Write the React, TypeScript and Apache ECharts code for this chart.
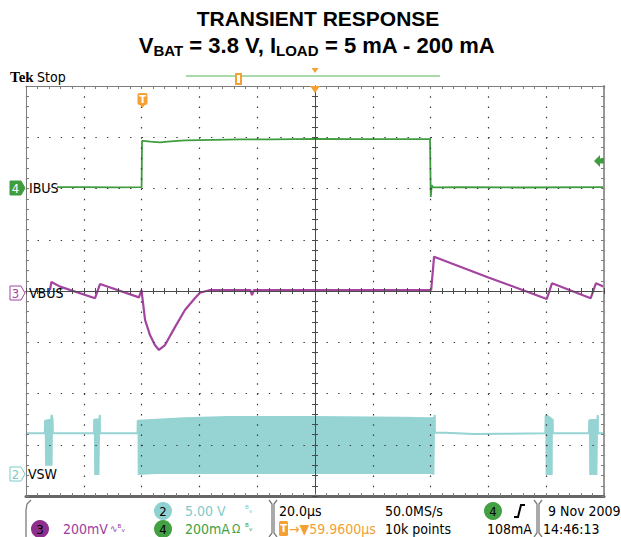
import React, { useEffect, useRef } from 'react';
import * as echarts from 'echarts';

// ---------- data (time in µs relative to trigger, 20 µs/div) ----------
const timeMin = -40;
const timeMax = 160;
const timeStep = 20;

// CH4 IBUS (mA, 200 mA/div)
const ibusTime = [-29.3, -20, -10, 0, 0.15, 0.6, 3, 6.4, 10, 15, 25, 34, 45, 60, 75, 89, 99.8, 100.05, 100.4, 100.9, 110, 130, 160];
const ibusMA = [5, 5, 4, 5, 186, 186, 183, 180, 184, 188, 190, 192, 192, 194, 193, 193, 193, -33, 13, 4, 5, 4, 5];

// CH3 VBUS (mV deviation, 200 mV/div, AC)
const vbusTime = [-31.7, -31.2, -28.2, -16.1, -14.4, -0.9, -0.05, 1.2, 2.9, 4.6, 6.0, 8.1, 11.6, 15.0, 18.5, 20.2, 23.7, 37.6, 38.2, 38.9, 60, 80, 99.9, 100.2, 101.2, 120, 140.2, 142.0, 155.4, 157.2, 160];
const vbusMV = [4, 35, 17, -28, 27, -25, 4, -113, -172, -211, -230, -211, -140, -74, -27, -7, 4, 4, -16, 4, 4, 4, 4, 4, 134, 53, -31, 30, -28, 30, 17];

// CH2 VSW (V, 5 V/div) - envelope of the switching node
const vswTime = [-40, -33.5, -33.4, -31.3, -31.1, -30.8, -30.7, -16.5, -16.4, -14.6, -14.45, -14.4, -1.4, -1.35, 5, 15, 30, 60, 90, 100, 101.3, 101.45, 101.5, 105, 115, 125, 139.7, 139.8, 140.0, 142.25, 142.3, 154.8, 154.9, 157.7, 157.85, 157.9, 160];
const vswLowV = [3.97, 3.97, 0.8, 0.8, 0.8, 0.8, 3.97, 3.97, -0.1, -0.1, -0.1, 3.97, 3.97, -0.1, 0, 0, 0, 0, 0, 0, -0.1, -0.1, 4.03, 4.03, 3.9, 3.93, 3.97, -0.1, -0.1, -0.1, 3.97, 3.97, -0.1, -0.1, -0.1, 3.97, 3.97];
const vswHighV = [3.97, 3.97, 5.2, 5.3, 5.76, 5.3, 3.97, 3.97, 5.3, 5.35, 5.76, 3.97, 3.97, 5.2, 5.3, 5.43, 5.56, 5.56, 5.5, 5.43, 5.5, 5.76, 4.03, 4.03, 3.9, 3.93, 3.97, 5.6, 5.76, 5.3, 3.97, 3.97, 5.25, 5.3, 5.76, 3.97, 3.97];

// channel scales (units per division, ground offset in divisions)
const ibusPerDiv = 200;
const ibusZeroDiv = 2;
const vbusPerDiv = 200;
const vbusZeroDiv = 0;
const vswPerDiv = 5;
const vswZeroDiv = -3.571;

// status bar texts
const statusTexts = {
  ch2Scale: '5.00 V',
  ch3Scale: '200mV',
  ch4Scale: '200mA',
  timebase: '20.0µs',
  sampleRate: '50.0MS/s',
  trigPos: '→▼59.9600µs',
  points: '10k points',
  trigLevel: '108mA',
  date: '9 Nov 2009',
  time: '14:46:13',
};

// ---------- styles ----------
const C_IBUS = '#3f9d3f';
const C_VBUS = '#a3449f';
const C_VSW = '#96d3d3';
const C_ORANGE = '#f4a033';
const FRAME = '#7c7c7c';
const DOT = '#3a3a3a';
const CENTER = '#4a4a4a';
const SCOPE_FONT = '"DejaVu Sans Condensed", "DejaVu Sans", sans-serif';
const TITLE_FONT = '"Liberation Sans", Arial, sans-serif';

function txt(text: string, x: number, y: number, fill: string, size = 14, align = 'left', extra: any = {}) {
  return {
    type: 'text', x, y, z: 100,
    style: {
      text, fill, font: `${extra.weight || 'normal'} ${size}px ${extra.family || SCOPE_FONT}`,
      textAlign: align, align, textVerticalAlign: 'middle', verticalAlign: 'middle',
    },
  };
}
function badge(label: string, cx: number, cy: number, fill: string) {
  return [
    { type: 'circle', z: 100, shape: { cx, cy, r: 9 }, style: { fill } },
    txt(label, cx, cy + 0.5, '#000', 13, 'center'),
  ];
}
function chMarker(label: string, y: number, color: string, filled: boolean) {
  return [
    {
      type: 'polygon', z: 100,
      shape: { points: [[10, y - 7], [21, y - 7], [25, y], [21, y + 7], [10, y + 7]] },
      style: { fill: filled ? color : '#fff', stroke: color, lineWidth: 1 },
    },
    txt(label, 15.5, y + 0.5, filled ? '#fff' : color, 13, 'center'),
  ];
}
function bracket(x: number) {
  return [
    { type: 'polyline', z: 100, shape: { points: [[x - 4, 500], [x - 1, 504], [x - 1, 533], [x - 4, 537]] }, style: { stroke: FRAME, lineWidth: 1.3, fill: 'none' } },
    { type: 'polyline', z: 100, shape: { points: [[x + 4, 500], [x + 1, 504], [x + 1, 533], [x + 4, 537]] }, style: { stroke: FRAME, lineWidth: 1.3, fill: 'none' } },
  ];
}

function chRange(perDiv: number, zeroDiv: number) {
  return { min: (-4 - zeroDiv) * perDiv, max: (4 - zeroDiv) * perDiv };
}

function buildOption(): any {
  const hiddenY = (r: { min: number; max: number }) => ({
    type: 'value', min: r.min, max: r.max, show: false, axisLine: { onZero: false }, splitLine: { show: false },
  });
  const timeAxis = (position: string, withSplit: boolean, lineWidth: number, color: string) => ({
    type: 'value', min: timeMin, max: timeMax, interval: timeStep, position, z: 5,
    axisLine: { show: true, onZero: false, lineStyle: { color, width: lineWidth } },
    axisTick: { show: true, inside: true, length: 3, lineStyle: { color: FRAME } },
    minorTick: { show: true, splitNumber: 5, length: 3, lineStyle: { color: FRAME } },
    axisLabel: { show: false },
    splitLine: { show: withSplit, lineStyle: { color: DOT, width: 1.2, type: [1.4, 8.85] } },
    minorSplitLine: { show: false },
  });
  const divX = (inside: boolean) => ({
    type: 'value', min: -5, max: 5, interval: 1, position: 'bottom', z: 5,
    axisLine: { show: true, onZero: true, onZeroAxisIndex: 0, lineStyle: { color: CENTER, width: 1 } },
    axisTick: { show: true, inside, length: 3, lineStyle: { color: CENTER } },
    minorTick: { show: true, splitNumber: 5, length: 3, lineStyle: { color: CENTER } },
    axisLabel: { show: false }, splitLine: { show: false },
  });
  const divYBorder = (position: string, withSplit: boolean, lineWidth: number, color: string) => ({
    type: 'value', min: -4, max: 4, interval: 1, position, z: 5,
    axisLine: { show: true, onZero: false, lineStyle: { color, width: lineWidth } },
    axisTick: { show: true, inside: true, length: 3, lineStyle: { color: FRAME } },
    minorTick: { show: true, splitNumber: 5, length: 3, lineStyle: { color: FRAME } },
    axisLabel: { show: false },
    splitLine: { show: withSplit, lineStyle: { color: DOT, width: 1.2, type: [1.4, 10.16] } },
    minorSplitLine: { show: false },
  });
  const divYCenter = (inside: boolean) => ({
    type: 'value', min: -4, max: 4, interval: 1, position: 'left', z: 5,
    axisLine: { show: true, onZero: true, onZeroAxisIndex: 2, lineStyle: { color: CENTER, width: 1 } },
    axisTick: { show: true, inside, length: 3, lineStyle: { color: CENTER } },
    minorTick: { show: true, splitNumber: 5, length: 3, lineStyle: { color: CENTER } },
    axisLabel: { show: false }, splitLine: { show: false },
  });

  const vswHigh = vswTime.map((t, i) => [t, vswHighV[i]]);
  const vswLow = vswTime.map((t, i) => [t, vswLowV[i]]);

  const graphic: any[] = [
    // title
    {
      type: 'text', x: 318, y: 18, z: 100,
      style: {
        text: 'TRANSIENT RESPONSE', fill: '#000', font: `bold 21px ${TITLE_FONT}`,
        textAlign: 'center', align: 'center', textVerticalAlign: 'middle', verticalAlign: 'middle',
      },
    },
    {
      type: 'text', x: 317, y: 45, z: 100,
      style: {
        text: '{m|V}{s|BAT}{m| = 3.8 V, I}{s|LOAD}{m| = 5 mA - 200 mA}',
        fill: '#000',
        textAlign: 'center', align: 'center', textVerticalAlign: 'middle', verticalAlign: 'middle',
        rich: {
          m: { fontSize: 22, fontWeight: 'bold', fontFamily: TITLE_FONT, lineHeight: 26, fill: '#000' },
          s: { fontSize: 15, fontWeight: 'bold', fontFamily: TITLE_FONT, lineHeight: 14, verticalAlign: 'bottom', fill: '#000' },
        },
      },
    },
    // Tek Stop
    txt('Tek', 10, 77, '#000', 15, 'left', { weight: 'bold', family: '"Liberation Serif", serif' }),
    txt('Stop', 37, 77, '#000', 14),
    // record view bar
    { type: 'line', z: 100, shape: { x1: 186, y1: 76, x2: 440, y2: 76 }, style: { stroke: '#55b455', lineWidth: 1 } },
    { type: 'rect', z: 101, shape: { x: 235, y: 73, width: 7, height: 12 }, style: { fill: C_ORANGE } },
    { type: 'rect', z: 102, shape: { x: 237, y: 75, width: 3, height: 8 }, style: { fill: '#fff' } },
    { type: 'polygon', z: 100, shape: { points: [[311.5, 68], [318.5, 68], [315, 73]] }, style: { fill: C_ORANGE } },
    // trigger position on top border
    { type: 'polygon', z: 100, shape: { points: [[310, 86], [320, 86], [315, 93]] }, style: { fill: C_ORANGE } },
    // trigger T marker
    { type: 'rect', z: 100, shape: { x: 137.5, y: 93, width: 10, height: 12, r: 2 }, style: { fill: C_ORANGE } },
    { type: 'polygon', z: 100, shape: { points: [[139.5, 104], [145.5, 104], [142.5, 108]] }, style: { fill: C_ORANGE } },
    txt('T', 142.5, 99.5, '#fff', 11, 'center', { weight: 'bold' }),
    // trigger level arrow (right)
    { type: 'polygon', z: 100, shape: { points: [[594, 161], [600, 155], [600, 158.5], [604, 158.5], [604, 163.5], [600, 163.5], [600, 167]] }, style: { fill: C_IBUS } },
    // channel markers and labels
    ...chMarker('4', 188, C_IBUS, true),
    txt('IBUS', 29, 188, '#000', 14),
    ...chMarker('3', 293, C_VBUS, false),
    txt('VBUS', 29, 293, '#000', 14),
    ...chMarker('2', 474, '#7cc8c8', false),
    txt('VSW', 28, 474, '#000', 14),
    // status bar
    { type: 'polyline', z: 100, shape: { points: [[31, 500], [27, 504], [26, 510], [26, 537]] }, style: { stroke: FRAME, lineWidth: 1.3, fill: 'none' } },
    ...bracket(273),
    ...bracket(538),
    ...badge('2', 163, 511, '#8fd1d1'),
    txt(statusTexts.ch2Scale, 185, 511, '#7fcaca', 14),
    txt('ᴮᵥ', 245, 509, '#7fcaca', 10),
    ...badge('3', 40, 529, '#8e2f8e'),
    txt(statusTexts.ch3Scale, 63, 529, '#9c3d9c', 14),
    txt('∿ᴮᵥ', 110, 528, '#9c3d9c', 10),
    ...badge('4', 163, 529, '#43a043'),
    txt(statusTexts.ch4Scale, 185, 529, '#43a043', 14),
    txt('Ω', 232, 529, '#43a043', 12),
    txt('ᴮᵥ', 245, 527, '#43a043', 10),
    txt(statusTexts.timebase, 279, 511, '#000', 14),
    txt(statusTexts.sampleRate, 385, 511, '#000', 14),
    ...badge('4', 493, 511, '#43a043'),
    { type: 'polyline', z: 100, shape: { points: [[514, 517], [518, 517], [521, 505], [525, 505]] }, style: { stroke: '#000', lineWidth: 2, fill: 'none' } },
    { type: 'rect', z: 100, shape: { x: 279, y: 521, width: 9, height: 15, r: 1.5 }, style: { fill: C_ORANGE } },
    txt('T', 283.5, 528.5, '#fff', 11, 'center', { weight: 'bold' }),
    txt(statusTexts.trigPos, 289, 529, C_ORANGE, 14),
    txt(statusTexts.points, 385, 529, '#000', 14),
    txt(statusTexts.trigLevel, 487, 529, '#000', 14),
    txt(statusTexts.date, 548, 511, '#000', 14),
    txt(statusTexts.time, 543, 529, '#000', 14),
  ];

  return {
    animation: false,
    backgroundColor: '#fff',
    grid: { left: 26, top: 86, width: 578, height: 410 },
    xAxis: [
      timeAxis('bottom', true, 3, '#666'),
      timeAxis('top', false, 1, FRAME),
      divX(false),
      divX(true),
    ],
    yAxis: [
      divYBorder('left', true, 1, FRAME),
      divYBorder('right', false, 2, '#999'),
      divYCenter(false),
      divYCenter(true),
      hiddenY(chRange(ibusPerDiv, ibusZeroDiv)),
      hiddenY(chRange(vbusPerDiv, vbusZeroDiv)),
      hiddenY(chRange(vswPerDiv, vswZeroDiv)),
    ],
    series: [
      {
        type: 'line', name: 'VSW fill', xAxisIndex: 0, yAxisIndex: 6, data: vswHigh, symbol: 'none', silent: true,
        lineStyle: { width: 0, opacity: 0 }, areaStyle: { color: C_VSW, opacity: 1, origin: 'start' },
      },
      {
        type: 'line', name: 'VSW low', xAxisIndex: 0, yAxisIndex: 6, data: vswLow, symbol: 'none', silent: true,
        lineStyle: { width: 0, opacity: 0 }, areaStyle: { color: '#ffffff', opacity: 1, origin: 'start' },
      },
      {
        type: 'line', name: 'VSW', xAxisIndex: 0, yAxisIndex: 6, data: vswHigh, symbol: 'none', silent: true,
        lineStyle: { color: C_VSW, width: 2 },
      },
      {
        type: 'line', name: 'VBUS', xAxisIndex: 0, yAxisIndex: 5, data: vbusTime.map((t, i) => [t, vbusMV[i]]),
        symbol: 'none', silent: true, lineStyle: { color: C_VBUS, width: 2.2 },
      },
      {
        type: 'line', name: 'IBUS', xAxisIndex: 0, yAxisIndex: 4, data: ibusTime.map((t, i) => [t, ibusMA[i]]),
        symbol: 'none', silent: true, lineStyle: { color: C_IBUS, width: 1.8 },
      },
    ],
    graphic,
  };
}

export default function App() {
  const ref = useRef<HTMLDivElement>(null);
  useEffect(() => {
    const el = ref.current;
    if (!el) return;
    const chart = echarts.init(el, null, { renderer: 'svg' });
    chart.setOption(buildOption());
    return () => chart.dispose();
  }, []);
  return (
    <div
      ref={ref}
      style={{ position: 'absolute', left: 0, top: 0, width: 621, height: 537, background: '#fff' }}
    />
  );
}
